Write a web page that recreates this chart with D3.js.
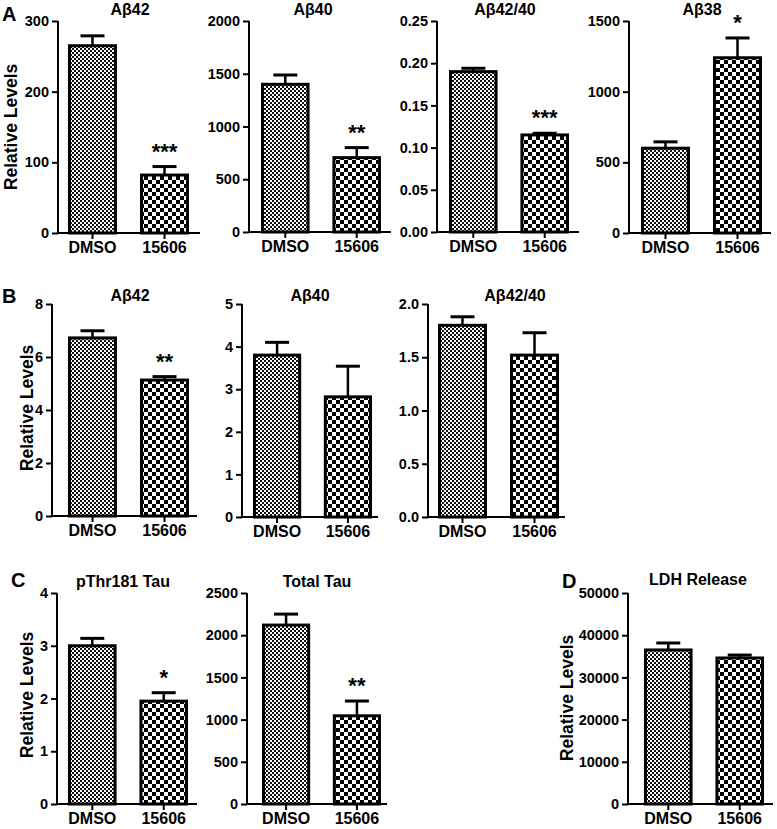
<!DOCTYPE html>
<html>
<head>
<meta charset="utf-8">
<script src="https://cdn.jsdelivr.net/npm/d3@7"></script>
<style>
  html, body { margin: 0; padding: 0; background: #fff; }
  svg { display: block; }
  text { font-family: "Liberation Sans", Arial, sans-serif; fill: #000; }
</style>
</head>
<body>
<svg id="chart" width="777" height="829"></svg>
<script>
// ---------------- DATA ----------------
const categories = ["DMSO", "15606"];
const titles = ["Aβ42", "Aβ40", "Aβ42/40", "Aβ38", "Aβ42", "Aβ40", "Aβ42/40", "pThr181 Tau", "Total Tau", "LDH Release"];
const dmsoMeans  = [265, 1400, 0.190, 600, 6.72, 3.80, 1.80, 3.00, 2120, 36500];
const dmsoErrors = [14, 88, 0.004, 45, 0.27, 0.30, 0.08, 0.14, 130, 1650];
const cmpdMeans  = [82, 705, 0.115, 1240, 5.13, 2.82, 1.52, 1.95, 1045, 34600];
const cmpdErrors = [12, 95, 0.002, 140, 0.13, 0.72, 0.21, 0.16, 175, 700];
const stars = ["***", "**", "***", "*", "**", "", "", "*", "**", ""];
const yTicks = [
  [0, 100, 200, 300],
  [0, 500, 1000, 1500, 2000],
  [0, 0.05, 0.10, 0.15, 0.20, 0.25],
  [0, 500, 1000, 1500],
  [0, 2, 4, 6, 8],
  [0, 1, 2, 3, 4, 5],
  [0, 0.5, 1.0, 1.5, 2.0],
  [0, 1, 2, 3, 4],
  [0, 500, 1000, 1500, 2000, 2500],
  [0, 10000, 20000, 30000, 40000, 50000]
];
const tickFormats = ["d", "d", ".2f", "d", "d", "d", ".1f", "d", "d", "d"];
const panelLetters = ["A", "B", "C", "D"];

// ---------------- LAYOUT ----------------
const layout = [
  {ax: 58,  b0: 68,  b1: 189, xEnd: 200, yTop: 21,  y0: 233, tx: 130, ty: 15},
  {ax: 249, b0: 261, b1: 381, xEnd: 391, yTop: 21,  y0: 232, tx: 313, ty: 15},
  {ax: 437, b0: 449, b1: 569, xEnd: 579, yTop: 21,  y0: 232, tx: 505, ty: 15},
  {ax: 629, b0: 641, b1: 762, xEnd: 771, yTop: 21,  y0: 233, tx: 702, ty: 15},
  {ax: 52,  b0: 68,  b1: 189, xEnd: 197, yTop: 304, y0: 516, tx: 130, ty: 301},
  {ax: 242, b0: 253, b1: 372, xEnd: 378, yTop: 304, y0: 517, tx: 310, ty: 301},
  {ax: 428, b0: 438, b1: 559, xEnd: 565, yTop: 304, y0: 517, tx: 515, ty: 301},
  {ax: 57,  b0: 68,  b1: 188, xEnd: 197, yTop: 593, y0: 804, tx: 123, ty: 587},
  {ax: 247, b0: 262, b1: 381, xEnd: 387, yTop: 593, y0: 804, tx: 317, ty: 587},
  {ax: 628, b0: 644, b1: 764, xEnd: 773, yTop: 593, y0: 804, tx: 698, ty: 585}
];
const letterPos = [{x: 2, y: 21}, {x: 2, y: 303}, {x: 11, y: 587}, {x: 562, y: 588}];
const yLabelPos = [
  {x: 11, y: 127},
  {x: 27, y: 408},
  {x: 27, y: 695},
  {x: 567, y: 698}
];

const svg = d3.select("#chart");
const defs = svg.append("defs");

const p1 = defs.append("pattern").attr("id", "fine").attr("patternUnits", "userSpaceOnUse")
  .attr("width", 4).attr("height", 4);
p1.append("rect").attr("width", 4).attr("height", 4).attr("fill", "#fff");
p1.append("rect").attr("width", 2).attr("height", 2).attr("fill", "#111");
p1.append("rect").attr("x", 2).attr("y", 2).attr("width", 2).attr("height", 2).attr("fill", "#111");

const p2 = defs.append("pattern").attr("id", "coarse").attr("patternUnits", "userSpaceOnUse")
  .attr("width", 8).attr("height", 8);
p2.append("rect").attr("width", 8).attr("height", 8).attr("fill", "#fff");
p2.append("rect").attr("width", 4).attr("height", 4).attr("fill", "#000");
p2.append("rect").attr("x", 4).attr("y", 4).attr("width", 4).attr("height", 4).attr("fill", "#000");

const fills = ["url(#fine)", "url(#coarse)"];

titles.forEach((title, i) => {
  const L = layout[i];
  const ticks = yTicks[i];
  const yMax = ticks[ticks.length - 1];
  const y = d3.scaleLinear().domain([0, yMax]).range([L.y0, L.yTop]);
  const x = d3.scaleBand().domain(categories).range([L.b0, L.b1]).paddingInner(0.32).paddingOuter(0);

  const g = svg.append("g");
  const rows = categories.map((c, k) => ({
    cat: c,
    mean: k === 0 ? dmsoMeans[i] : cmpdMeans[i],
    err: k === 0 ? dmsoErrors[i] : cmpdErrors[i],
    fill: fills[k]
  }));

  rows.forEach(r => {
    const cx = x(r.cat) + x.bandwidth() / 2;
    g.append("line").attr("x1", cx).attr("x2", cx)
      .attr("y1", y(r.mean)).attr("y2", y(r.mean + r.err))
      .attr("stroke", "#000").attr("stroke-width", 2.5);
    g.append("line").attr("x1", cx - 12).attr("x2", cx + 12)
      .attr("y1", y(r.mean + r.err)).attr("y2", y(r.mean + r.err))
      .attr("stroke", "#000").attr("stroke-width", 3);
  });

  g.selectAll("rect.bar").data(rows).enter().append("rect")
    .attr("class", "bar")
    .attr("x", d => x(d.cat) + 1.5)
    .attr("width", x.bandwidth() - 3)
    .attr("y", d => y(d.mean))
    .attr("height", d => y(0) - y(d.mean))
    .attr("fill", d => d.fill)
    .attr("stroke", "#000").attr("stroke-width", 3);

  if (stars[i]) {
    const r = rows[1];
    g.append("text")
      .attr("x", x(r.cat) + x.bandwidth() / 2)
      .attr("y", y(r.mean + r.err) - 8)
      .attr("text-anchor", "middle")
      .attr("font-size", 22).attr("font-weight", "bold")
      .text(stars[i]);
  }

  const yAxis = d3.axisLeft(y).tickValues(ticks).tickFormat(d3.format(tickFormats[i]))
    .tickSize(6).tickSizeOuter(0).tickPadding(3);
  const ya = g.append("g").attr("transform", `translate(${L.ax},0)`).call(yAxis);
  ya.select(".domain").attr("stroke-width", 2).attr("d", `M0,${L.y0 + 1}V${L.yTop}`);
  ya.selectAll(".tick line").attr("stroke-width", 2);
  ya.selectAll(".tick text").attr("font-size", 14.5).attr("font-weight", "bold")
    .attr("font-family", "'Liberation Sans', Arial, sans-serif").attr("fill", "#000");

  const xAxis = d3.axisBottom(x).tickSize(6).tickSizeOuter(0).tickPadding(2);
  const xa = g.append("g").attr("transform", `translate(0,${L.y0})`).call(xAxis);
  xa.select(".domain").attr("stroke-width", 2).attr("d", `M${L.ax},0H${L.xEnd}`);
  xa.selectAll(".tick line").attr("stroke-width", 2);
  xa.selectAll(".tick text").attr("font-size", 16).attr("font-weight", "bold")
    .attr("font-family", "'Liberation Sans', Arial, sans-serif").attr("fill", "#000")
    .attr("dy", "0.78em");

  g.append("text").attr("x", L.tx).attr("y", L.ty)
    .attr("text-anchor", "middle").attr("font-size", 16).attr("font-weight", "bold")
    .text(title);
});

panelLetters.forEach((l, k) => {
  svg.append("text").attr("x", letterPos[k].x).attr("y", letterPos[k].y)
    .attr("font-size", 20).attr("font-weight", "bold").text(l);
});

yLabelPos.forEach(p => {
  svg.append("text")
    .attr("transform", `translate(${p.x + 6},${p.y}) rotate(-90)`)
    .attr("text-anchor", "middle")
    .attr("font-size", 17.5).attr("font-weight", "bold")
    .text("Relative Levels");
});
</script>
</body>
</html>
